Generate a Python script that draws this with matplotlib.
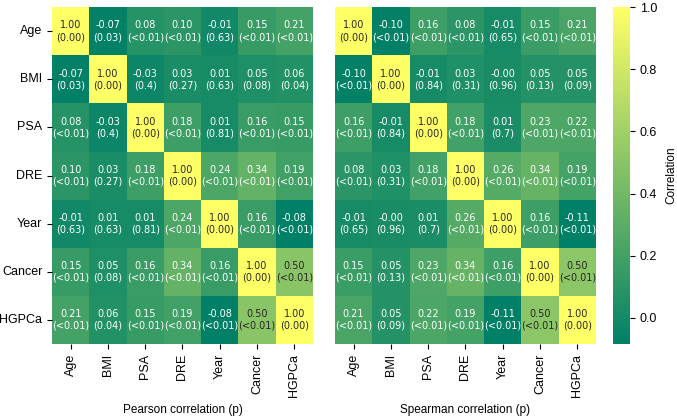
import numpy as np
import matplotlib
matplotlib.use("Agg")
import matplotlib.pyplot as plt
import seaborn as sns

plt.rcParams['font.family'] = ['Liberation Sans', 'DejaVu Sans']

labels = ['Age', 'BMI', 'PSA', 'DRE', 'Year', 'Cancer', 'HGPCa']

pearson_r = [
    [1.00, -0.07, 0.08, 0.10, -0.01, 0.15, 0.21],
    [-0.07, 1.00, -0.03, 0.03, 0.01, 0.05, 0.06],
    [0.08, -0.03, 1.00, 0.18, 0.01, 0.16, 0.15],
    [0.10, 0.03, 0.18, 1.00, 0.24, 0.34, 0.19],
    [-0.01, 0.01, 0.01, 0.24, 1.00, 0.16, -0.08],
    [0.15, 0.05, 0.16, 0.34, 0.16, 1.00, 0.50],
    [0.21, 0.06, 0.15, 0.19, -0.08, 0.50, 1.00],
]
pearson_p = [
    ['0.00', '0.03', '<0.01', '<0.01', '0.63', '<0.01', '<0.01'],
    ['0.03', '0.00', '0.4', '0.27', '0.63', '0.08', '0.04'],
    ['<0.01', '0.4', '0.00', '<0.01', '0.81', '<0.01', '<0.01'],
    ['<0.01', '0.27', '<0.01', '0.00', '<0.01', '<0.01', '<0.01'],
    ['0.63', '0.63', '0.81', '<0.01', '0.00', '<0.01', '<0.01'],
    ['<0.01', '0.08', '<0.01', '<0.01', '<0.01', '0.00', '<0.01'],
    ['<0.01', '0.04', '<0.01', '<0.01', '<0.01', '<0.01', '0.00'],
]
spearman_r = [
    [1.00, -0.10, 0.16, 0.08, -0.01, 0.15, 0.21],
    [-0.10, 1.00, -0.01, 0.03, -0.00, 0.05, 0.05],
    [0.16, -0.01, 1.00, 0.18, 0.01, 0.23, 0.22],
    [0.08, 0.03, 0.18, 1.00, 0.26, 0.34, 0.19],
    [-0.01, -0.00, 0.01, 0.26, 1.00, 0.16, -0.11],
    [0.15, 0.05, 0.23, 0.34, 0.16, 1.00, 0.50],
    [0.21, 0.05, 0.22, 0.19, -0.11, 0.50, 1.00],
]
spearman_p = [
    ['0.00', '<0.01', '<0.01', '<0.01', '0.65', '<0.01', '<0.01'],
    ['<0.01', '0.00', '0.84', '0.31', '0.96', '0.13', '0.09'],
    ['<0.01', '0.84', '0.00', '<0.01', '0.7', '<0.01', '<0.01'],
    ['<0.01', '0.31', '<0.01', '0.00', '<0.01', '<0.01', '<0.01'],
    ['0.65', '0.96', '0.7', '<0.01', '0.00', '<0.01', '<0.01'],
    ['<0.01', '0.13', '<0.01', '<0.01', '<0.01', '0.00', '<0.01'],
    ['<0.01', '0.09', '<0.01', '<0.01', '<0.01', '<0.01', '0.00'],
]


def annot_text(r, p):
    return np.array([[f"{v:.2f}\n({q})" for v, q in zip(rr, pp)]
                     for rr, pp in zip(r, p)])


fig = plt.figure(figsize=(6.77, 4.2), dpi=100)
ax1 = fig.add_axes([0.0768, 0.181, 0.3855, 0.802])
ax2 = fig.add_axes([0.4948, 0.181, 0.3855, 0.802])
cax = fig.add_axes([0.9055, 0.181, 0.025, 0.802])

annot_kw = {'fontsize': 7, 'family': 'DejaVu Sans'}

sns.heatmap(np.array(pearson_r), ax=ax1, cmap='summer', vmin=-0.084, vmax=1.0,
            annot=annot_text(pearson_r, pearson_p), fmt='', annot_kws=annot_kw,
            cbar=True, cbar_ax=cax, cbar_kws={'label': 'Correlation'},
            xticklabels=labels, yticklabels=labels)
sns.heatmap(np.array(spearman_r), ax=ax2, cmap='summer', vmin=-0.11, vmax=1.0,
            annot=annot_text(spearman_r, spearman_p), fmt='', annot_kws=annot_kw,
            cbar=False, xticklabels=labels, yticklabels=False)

for ax, name in [(ax1, 'Pearson correlation (p)'), (ax2, 'Spearman correlation (p)')]:
    ax.set_xlabel(name, fontsize=8.5, labelpad=5)
    ax.tick_params(axis='x', labelsize=9, rotation=90, length=3.5)
    ax.tick_params(axis='y', labelsize=9, rotation=0, length=3.5)

cax.tick_params(labelsize=9, length=3.5)
cax.set_ylabel('Correlation', fontsize=8.5, labelpad=6)

fig.savefig('out.png', dpi=100)
